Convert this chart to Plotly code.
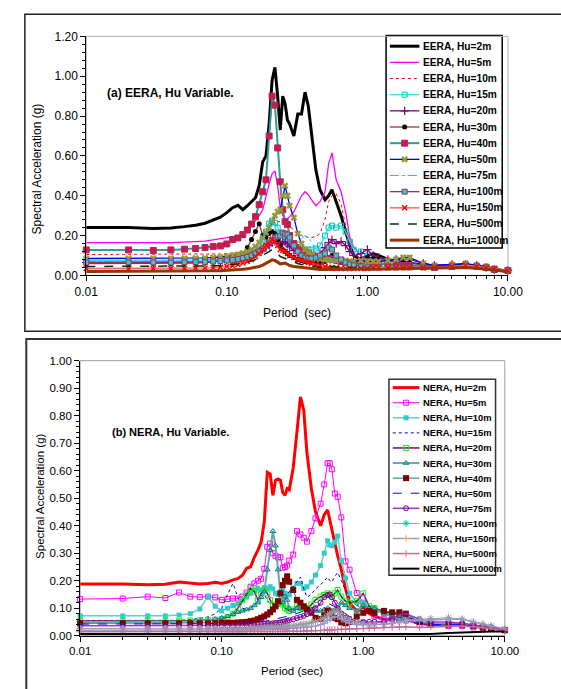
import plotly.graph_objects as go

# ---------------- data: panel (a) EERA ----------------
T_EERA = [0.01, 0.02, 0.03, 0.04, 0.05, 0.06, 0.07, 0.08, 0.09, 0.10,
          0.11, 0.12, 0.13, 0.14, 0.15, 0.16, 0.17, 0.18, 0.19, 0.20,
          0.21, 0.22, 0.23, 0.24, 0.25, 0.26, 0.27, 0.28, 0.30, 0.32,
          0.34, 0.36, 0.38, 0.40, 0.43, 0.46, 0.50, 0.53, 0.56, 0.60,
          0.65, 0.70, 0.75, 0.80, 0.90, 1.00, 1.10, 1.20, 1.40, 1.60,
          1.80, 2.00, 2.50, 3.00, 4.00, 5.00, 6.00, 7.00, 8.00, 10.0]

eera_2m = [0.240, 0.240, 0.235, 0.238, 0.245, 0.252, 0.262, 0.278, 0.292, 0.315,
           0.340, 0.352, 0.330, 0.350, 0.372, 0.390, 0.450, 0.570, 0.600, 0.760,
           0.980, 1.045, 0.900, 0.730, 0.900, 0.860, 0.780, 0.760, 0.700, 0.810,
           0.810, 0.920, 0.850, 0.720, 0.530, 0.430, 0.380, 0.400, 0.430, 0.370,
           0.300, 0.220, 0.150, 0.100, 0.080, 0.100, 0.110, 0.100, 0.080, 0.070,
           0.065, 0.060, 0.050, 0.045, 0.050, 0.050, 0.045, 0.040, 0.030, 0.020]
eera_5m = [0.165, 0.165, 0.163, 0.165, 0.167, 0.170, 0.172, 0.178, 0.183, 0.188,
           0.192, 0.198, 0.210, 0.230, 0.250, 0.275, 0.300, 0.330, 0.400, 0.460,
           0.510, 0.525, 0.450, 0.340, 0.300, 0.285, 0.285, 0.295, 0.320, 0.360,
           0.400, 0.420, 0.405, 0.380, 0.350, 0.370, 0.420, 0.560, 0.615, 0.480,
           0.420, 0.320, 0.190, 0.140, 0.100, 0.080, 0.070, 0.060, 0.055, 0.050,
           0.050, 0.050, 0.045, 0.040, 0.045, 0.050, 0.045, 0.040, 0.030, 0.020]
eera_10m = [0.105, 0.105, 0.105, 0.105, 0.105, 0.105, 0.106, 0.107, 0.108, 0.110,
            0.112, 0.115, 0.118, 0.122, 0.130, 0.145, 0.160, 0.180, 0.200, 0.225,
            0.250, 0.265, 0.270, 0.270, 0.275, 0.280, 0.265, 0.250, 0.225, 0.210,
            0.200, 0.195, 0.190, 0.190, 0.195, 0.210, 0.280, 0.370, 0.400, 0.410,
            0.360, 0.250, 0.150, 0.110, 0.080, 0.070, 0.060, 0.055, 0.050, 0.050,
            0.050, 0.050, 0.045, 0.040, 0.045, 0.050, 0.045, 0.040, 0.030, 0.020]
eera_15m = [0.075, 0.075, 0.075, 0.075, 0.076, 0.077, 0.078, 0.080, 0.082, 0.085,
            0.088, 0.092, 0.097, 0.105, 0.115, 0.130, 0.150, 0.180, 0.220, 0.260,
            0.275, 0.265, 0.240, 0.210, 0.185, 0.170, 0.160, 0.150, 0.140, 0.135,
            0.130, 0.130, 0.130, 0.130, 0.135, 0.150, 0.200, 0.240, 0.250, 0.240,
            0.250, 0.220, 0.170, 0.130, 0.120, 0.100, 0.080, 0.070, 0.060, 0.055,
            0.055, 0.055, 0.050, 0.045, 0.050, 0.055, 0.050, 0.040, 0.030, 0.025]
eera_20m = [0.065, 0.065, 0.064, 0.065, 0.066, 0.067, 0.068, 0.070, 0.073, 0.076,
            0.080, 0.085, 0.090, 0.095, 0.100, 0.110, 0.120, 0.130, 0.140, 0.150,
            0.165, 0.170, 0.165, 0.160, 0.165, 0.170, 0.160, 0.145, 0.125, 0.110,
            0.100, 0.095, 0.090, 0.090, 0.095, 0.110, 0.140, 0.165, 0.180, 0.160,
            0.170, 0.150, 0.120, 0.100, 0.110, 0.130, 0.100, 0.090, 0.080, 0.080,
            0.080, 0.080, 0.060, 0.050, 0.055, 0.055, 0.050, 0.040, 0.030, 0.025]
eera_30m = [0.060, 0.060, 0.060, 0.060, 0.061, 0.062, 0.064, 0.067, 0.070, 0.075,
            0.085, 0.095, 0.110, 0.140, 0.180, 0.220, 0.260, 0.200, 0.190, 0.210,
            0.220, 0.210, 0.180, 0.150, 0.130, 0.120, 0.110, 0.100, 0.090, 0.080,
            0.075, 0.070, 0.068, 0.065, 0.060, 0.060, 0.070, 0.090, 0.100, 0.085,
            0.075, 0.070, 0.070, 0.070, 0.080, 0.090, 0.085, 0.080, 0.075, 0.070,
            0.070, 0.065, 0.050, 0.045, 0.050, 0.050, 0.045, 0.040, 0.030, 0.025]
eera_40m = [0.128, 0.128, 0.125, 0.128, 0.132, 0.135, 0.140, 0.145, 0.148, 0.158,
            0.180, 0.188, 0.205, 0.228, 0.258, 0.295, 0.355, 0.420, 0.480, 0.700,
            0.900, 0.855, 0.640, 0.470, 0.330, 0.270, 0.255, 0.200, 0.160, 0.140,
            0.125, 0.115, 0.110, 0.100, 0.095, 0.090, 0.085, 0.085, 0.080, 0.075,
            0.070, 0.065, 0.060, 0.060, 0.065, 0.070, 0.065, 0.060, 0.055, 0.050,
            0.050, 0.050, 0.045, 0.040, 0.045, 0.050, 0.045, 0.040, 0.030, 0.025]
eera_50m = [0.085, 0.085, 0.085, 0.085, 0.086, 0.087, 0.088, 0.090, 0.092, 0.095,
            0.100, 0.105, 0.112, 0.120, 0.130, 0.145, 0.165, 0.190, 0.215, 0.240,
            0.270, 0.300, 0.320, 0.330, 0.400, 0.450, 0.400, 0.350, 0.290, 0.210,
            0.160, 0.130, 0.115, 0.105, 0.095, 0.085, 0.080, 0.075, 0.075, 0.075,
            0.080, 0.075, 0.070, 0.070, 0.075, 0.070, 0.070, 0.070, 0.075, 0.080,
            0.090, 0.090, 0.060, 0.050, 0.055, 0.060, 0.050, 0.045, 0.035, 0.025]
eera_75m = [0.070, 0.070, 0.070, 0.070, 0.070, 0.071, 0.072, 0.073, 0.075, 0.078,
            0.082, 0.086, 0.092, 0.100, 0.110, 0.125, 0.145, 0.170, 0.220, 0.270,
            0.280, 0.240, 0.210, 0.200, 0.195, 0.190, 0.175, 0.160, 0.150, 0.165,
            0.185, 0.200, 0.190, 0.165, 0.135, 0.120, 0.100, 0.090, 0.080, 0.075,
            0.070, 0.065, 0.060, 0.055, 0.055, 0.055, 0.050, 0.050, 0.045, 0.045,
            0.045, 0.045, 0.040, 0.040, 0.045, 0.045, 0.040, 0.035, 0.030, 0.020]
eera_100m = [0.065, 0.065, 0.065, 0.065, 0.066, 0.067, 0.068, 0.070, 0.072, 0.075,
             0.078, 0.082, 0.087, 0.093, 0.100, 0.110, 0.120, 0.135, 0.150, 0.165,
             0.180, 0.190, 0.195, 0.200, 0.215, 0.210, 0.205, 0.190, 0.150, 0.120,
             0.100, 0.090, 0.085, 0.085, 0.090, 0.100, 0.110, 0.140, 0.130, 0.100,
             0.080, 0.065, 0.055, 0.050, 0.045, 0.040, 0.040, 0.040, 0.040, 0.040,
             0.040, 0.040, 0.040, 0.040, 0.045, 0.050, 0.045, 0.040, 0.030, 0.025]
eera_150m = [0.035, 0.035, 0.035, 0.035, 0.035, 0.036, 0.037, 0.039, 0.041, 0.045,
             0.050, 0.055, 0.062, 0.070, 0.080, 0.095, 0.110, 0.130, 0.150, 0.160,
             0.180, 0.170, 0.150, 0.130, 0.125, 0.120, 0.110, 0.100, 0.090, 0.080,
             0.075, 0.070, 0.065, 0.060, 0.055, 0.050, 0.045, 0.040, 0.040, 0.040,
             0.035, 0.035, 0.035, 0.035, 0.035, 0.035, 0.040, 0.040, 0.040, 0.040,
             0.040, 0.040, 0.040, 0.040, 0.045, 0.050, 0.045, 0.040, 0.035, 0.025]
eera_500m = [0.045, 0.045, 0.045, 0.045, 0.045, 0.046, 0.047, 0.048, 0.050, 0.052,
             0.055, 0.058, 0.062, 0.066, 0.072, 0.080, 0.090, 0.100, 0.110, 0.120,
             0.130, 0.125, 0.110, 0.095, 0.090, 0.085, 0.080, 0.075, 0.065, 0.060,
             0.055, 0.050, 0.048, 0.045, 0.042, 0.040, 0.040, 0.042, 0.045, 0.042,
             0.040, 0.038, 0.036, 0.035, 0.035, 0.035, 0.035, 0.035, 0.035, 0.035,
             0.035, 0.035, 0.035, 0.035, 0.040, 0.040, 0.040, 0.035, 0.030, 0.020]
eera_1000m = [0.020, 0.020, 0.020, 0.020, 0.020, 0.021, 0.022, 0.023, 0.024, 0.025,
              0.027, 0.029, 0.031, 0.033, 0.036, 0.040, 0.045, 0.052, 0.060, 0.068,
              0.078, 0.075, 0.065, 0.058, 0.060, 0.062, 0.056, 0.050, 0.045, 0.042,
              0.040, 0.038, 0.036, 0.034, 0.032, 0.030, 0.030, 0.030, 0.030, 0.030,
              0.030, 0.030, 0.030, 0.030, 0.030, 0.030, 0.030, 0.030, 0.032, 0.034,
              0.035, 0.035, 0.035, 0.038, 0.040, 0.040, 0.036, 0.032, 0.028, 0.020]

# ---------------- data: panel (b) NERA ----------------
T_NERA = [0.01, 0.02, 0.03, 0.04, 0.05, 0.06, 0.07, 0.08, 0.09, 0.10,
          0.11, 0.12, 0.13, 0.14, 0.15, 0.16, 0.17, 0.18, 0.19, 0.20,
          0.21, 0.22, 0.23, 0.24, 0.25, 0.26, 0.27, 0.28, 0.29, 0.30,
          0.32, 0.34, 0.36, 0.38, 0.40, 0.43, 0.46, 0.50, 0.53, 0.56,
          0.58, 0.60, 0.63, 0.66, 0.70, 0.75, 0.80, 0.90, 1.00, 1.10,
          1.20, 1.40, 1.60, 1.80, 2.00, 2.50, 3.00, 4.00, 5.00, 6.00,
          7.00, 8.00, 10.0]

nera_2m = [0.188, 0.188, 0.185, 0.187, 0.195, 0.190, 0.188, 0.190, 0.194, 0.190,
           0.195, 0.203, 0.207, 0.220, 0.245, 0.250, 0.285, 0.310, 0.340, 0.415,
           0.594, 0.588, 0.510, 0.565, 0.570, 0.565, 0.520, 0.510, 0.535, 0.530,
           0.610, 0.740, 0.868, 0.820, 0.665, 0.535, 0.450, 0.400, 0.440, 0.457,
           0.420, 0.390, 0.340, 0.290, 0.240, 0.170, 0.120, 0.090, 0.105, 0.080,
           0.070, 0.060, 0.060, 0.070, 0.060, 0.045, 0.040, 0.040, 0.040, 0.035,
           0.030, 0.030, 0.020]
nera_5m = [0.133, 0.135, 0.142, 0.137, 0.157, 0.142, 0.140, 0.142, 0.139, 0.130,
           0.133, 0.135, 0.135, 0.142, 0.157, 0.178, 0.190, 0.200, 0.207, 0.243,
           0.323, 0.335, 0.300, 0.290, 0.285, 0.285, 0.247, 0.250, 0.255, 0.273,
           0.295, 0.380, 0.368, 0.356, 0.342, 0.380, 0.427, 0.480, 0.550, 0.627,
           0.627, 0.605, 0.517, 0.505, 0.430, 0.270, 0.240, 0.155, 0.120, 0.090,
           0.070, 0.060, 0.060, 0.060, 0.055, 0.040, 0.040, 0.035, 0.035, 0.030,
           0.028, 0.025, 0.020]
nera_10m = [0.072, 0.072, 0.072, 0.072, 0.075, 0.080, 0.097, 0.142, 0.107, 0.090,
            0.100, 0.110, 0.116, 0.130, 0.140, 0.154, 0.166, 0.172, 0.165, 0.175,
            0.170, 0.178, 0.170, 0.154, 0.150, 0.160, 0.166, 0.154, 0.150, 0.148,
            0.172, 0.190, 0.190, 0.172, 0.178, 0.195, 0.220, 0.255, 0.300, 0.345,
            0.330, 0.327, 0.340, 0.362, 0.273, 0.210, 0.154, 0.120, 0.120, 0.100,
            0.100, 0.080, 0.080, 0.075, 0.070, 0.050, 0.040, 0.040, 0.040, 0.035,
            0.030, 0.030, 0.020]
nera_15m = [0.055, 0.055, 0.055, 0.055, 0.056, 0.058, 0.062, 0.068, 0.080, 0.100,
            0.150, 0.190, 0.140, 0.100, 0.095, 0.100, 0.110, 0.125, 0.140, 0.150,
            0.130, 0.115, 0.110, 0.105, 0.105, 0.110, 0.120, 0.140, 0.150, 0.160,
            0.180, 0.195, 0.213, 0.170, 0.140, 0.150, 0.170, 0.185, 0.200, 0.213,
            0.200, 0.195, 0.215, 0.230, 0.200, 0.165, 0.140, 0.110, 0.100, 0.080,
            0.070, 0.060, 0.060, 0.065, 0.060, 0.045, 0.040, 0.040, 0.040, 0.035,
            0.030, 0.025, 0.020]
nera_20m = [0.053, 0.053, 0.053, 0.053, 0.054, 0.055, 0.056, 0.057, 0.058, 0.060,
            0.068, 0.080, 0.100, 0.128, 0.150, 0.172, 0.160, 0.130, 0.154, 0.166,
            0.154, 0.130, 0.113, 0.107, 0.125, 0.120, 0.113, 0.100, 0.095, 0.090,
            0.095, 0.107, 0.100, 0.100, 0.100, 0.113, 0.130, 0.142, 0.148, 0.154,
            0.148, 0.142, 0.154, 0.166, 0.142, 0.125, 0.120, 0.125, 0.154, 0.107,
            0.100, 0.090, 0.080, 0.080, 0.070, 0.050, 0.040, 0.040, 0.040, 0.035,
            0.030, 0.030, 0.020]
nera_30m = [0.050, 0.050, 0.050, 0.050, 0.050, 0.052, 0.054, 0.056, 0.060, 0.065,
            0.070, 0.078, 0.085, 0.090, 0.095, 0.100, 0.110, 0.120, 0.140, 0.160,
            0.240, 0.310, 0.380, 0.327, 0.240, 0.154, 0.120, 0.142, 0.130, 0.100,
            0.090, 0.100, 0.100, 0.100, 0.100, 0.095, 0.090, 0.090, 0.095, 0.100,
            0.095, 0.090, 0.095, 0.100, 0.120, 0.110, 0.100, 0.090, 0.110, 0.100,
            0.100, 0.080, 0.070, 0.060, 0.060, 0.050, 0.045, 0.040, 0.040, 0.035,
            0.030, 0.030, 0.020]
nera_40m = [0.045, 0.045, 0.045, 0.045, 0.045, 0.045, 0.045, 0.045, 0.045, 0.046,
            0.046, 0.047, 0.048, 0.049, 0.050, 0.053, 0.055, 0.060, 0.065, 0.070,
            0.077, 0.085, 0.095, 0.107, 0.125, 0.154, 0.184, 0.200, 0.216, 0.196,
            0.166, 0.130, 0.120, 0.107, 0.095, 0.083, 0.065, 0.060, 0.074, 0.090,
            0.085, 0.077, 0.065, 0.060, 0.048, 0.045, 0.050, 0.070, 0.083, 0.090,
            0.083, 0.090, 0.085, 0.085, 0.080, 0.050, 0.040, 0.040, 0.040, 0.035,
            0.030, 0.025, 0.020]
nera_50m = [0.042, 0.042, 0.042, 0.042, 0.042, 0.042, 0.042, 0.042, 0.043, 0.043,
            0.044, 0.044, 0.045, 0.045, 0.046, 0.047, 0.048, 0.049, 0.050, 0.052,
            0.054, 0.056, 0.058, 0.060, 0.062, 0.064, 0.066, 0.068, 0.070, 0.072,
            0.076, 0.080, 0.085, 0.090, 0.095, 0.100, 0.105, 0.110, 0.115, 0.120,
            0.115, 0.110, 0.105, 0.100, 0.090, 0.080, 0.070, 0.060, 0.055, 0.050,
            0.050, 0.050, 0.050, 0.055, 0.050, 0.045, 0.040, 0.040, 0.040, 0.035,
            0.030, 0.025, 0.020]
nera_75m = [0.036, 0.036, 0.036, 0.036, 0.036, 0.036, 0.036, 0.036, 0.036, 0.036,
            0.036, 0.036, 0.037, 0.037, 0.038, 0.038, 0.039, 0.040, 0.041, 0.042,
            0.043, 0.044, 0.045, 0.046, 0.047, 0.048, 0.050, 0.052, 0.054, 0.056,
            0.060, 0.064, 0.068, 0.072, 0.078, 0.088, 0.100, 0.120, 0.140, 0.148,
            0.150, 0.140, 0.120, 0.100, 0.080, 0.065, 0.060, 0.050, 0.050, 0.050,
            0.050, 0.050, 0.060, 0.075, 0.080, 0.060, 0.050, 0.050, 0.045, 0.040,
            0.035, 0.030, 0.020]
nera_100m = [0.026, 0.026, 0.026, 0.026, 0.026, 0.026, 0.026, 0.026, 0.026, 0.026,
             0.026, 0.026, 0.027, 0.027, 0.027, 0.028, 0.028, 0.029, 0.029, 0.030,
             0.030, 0.031, 0.031, 0.032, 0.032, 0.033, 0.033, 0.034, 0.035, 0.035,
             0.037, 0.038, 0.040, 0.042, 0.044, 0.048, 0.052, 0.058, 0.065, 0.075,
             0.080, 0.085, 0.090, 0.090, 0.080, 0.065, 0.055, 0.050, 0.045, 0.040,
             0.040, 0.040, 0.045, 0.050, 0.055, 0.060, 0.062, 0.065, 0.060, 0.050,
             0.042, 0.035, 0.025]
nera_150m = [0.020, 0.020, 0.020, 0.020, 0.020, 0.020, 0.020, 0.020, 0.020, 0.020,
             0.020, 0.020, 0.020, 0.021, 0.021, 0.021, 0.022, 0.022, 0.022, 0.023,
             0.023, 0.023, 0.024, 0.024, 0.024, 0.025, 0.025, 0.025, 0.026, 0.026,
             0.027, 0.028, 0.029, 0.030, 0.031, 0.033, 0.035, 0.040, 0.045, 0.055,
             0.060, 0.065, 0.070, 0.068, 0.060, 0.050, 0.045, 0.040, 0.040, 0.040,
             0.040, 0.042, 0.045, 0.050, 0.055, 0.055, 0.058, 0.060, 0.060, 0.050,
             0.042, 0.035, 0.025]
nera_500m = [0.014, 0.014, 0.014, 0.014, 0.014, 0.014, 0.014, 0.014, 0.014, 0.014,
             0.014, 0.014, 0.014, 0.014, 0.015, 0.015, 0.015, 0.015, 0.015, 0.015,
             0.015, 0.015, 0.015, 0.015, 0.015, 0.015, 0.015, 0.016, 0.016, 0.016,
             0.016, 0.016, 0.016, 0.017, 0.017, 0.018, 0.018, 0.019, 0.020, 0.020,
             0.021, 0.021, 0.022, 0.022, 0.023, 0.023, 0.024, 0.025, 0.026, 0.027,
             0.028, 0.030, 0.030, 0.032, 0.032, 0.030, 0.032, 0.035, 0.035, 0.032,
             0.028, 0.025, 0.020]
nera_1000m = [0.006, 0.006, 0.006, 0.006, 0.006, 0.006, 0.006, 0.006, 0.006, 0.006,
              0.006, 0.006, 0.006, 0.006, 0.006, 0.006, 0.006, 0.006, 0.006, 0.006,
              0.006, 0.006, 0.006, 0.006, 0.006, 0.006, 0.006, 0.006, 0.006, 0.006,
              0.006, 0.006, 0.006, 0.006, 0.006, 0.006, 0.006, 0.006, 0.006, 0.006,
              0.006, 0.006, 0.006, 0.006, 0.006, 0.006, 0.006, 0.006, 0.006, 0.006,
              0.006, 0.006, 0.006, 0.006, 0.006, 0.006, 0.006, 0.010, 0.012, 0.014,
              0.015, 0.015, 0.015]

X_TICKVALS = [0.01, 0.1, 1, 10]
X_TICKTEXT = ["0.01", "0.10", "1.00", "10.00"]

# ---------------- styles ----------------
def ln(color, width=1.0, dash="solid"):
    return dict(color=color, width=width, dash=dash)

eera_series = [
    ("EERA, Hu=2m", eera_2m, ln("#000000", 3), None),
    ("EERA, Hu=5m", eera_5m, ln("#FF00FF", 1.3), None),
    ("EERA, Hu=10m", eera_10m, ln("#FF0000", 1, "dot"), None),
    ("EERA, Hu=15m", eera_15m, ln("#33E6E6", 1.3),
     dict(symbol="square-open", size=5, color="#00C0C0")),
    ("EERA, Hu=20m", eera_20m, ln("#800080", 1.3),
     dict(symbol="cross-thin", size=6, line=dict(width=1.2, color="#800080"))),
    ("EERA, Hu=30m", eera_30m, ln("#993333", 1.3),
     dict(symbol="circle", size=5, color="#000000")),
    ("EERA, Hu=40m", eera_40m, ln("#339999", 2),
     dict(symbol="square", size=6, color="#DD1144", line=dict(width=1, color="#993366"))),
    ("EERA, Hu=50m", eera_50m, ln("#0000FF", 1.3),
     dict(symbol="x", size=6, color="#999933")),
    ("EERA, Hu=75m", eera_75m, ln("#00CCFF", 1, "dashdot"), None),
    ("EERA, Hu=100m", eera_100m, ln("#993366", 1.3),
     dict(symbol="square", size=5, color="#33CCCC", line=dict(width=1, color="#993366"))),
    ("EERA, Hu=150m", eera_150m, ln("#FF6666", 1.5),
     dict(symbol="x-thin", size=5, line=dict(width=1.5, color="#FF0000"))),
    ("EERA, Hu=500m", eera_500m, ln("#003300", 1.5, "dash"), None),
    ("EERA, Hu=1000m", eera_1000m, ln("#993300", 3), None),
]

nera_series = [
    ("NERA, Hu=2m", nera_2m, ln("#FF0000", 3), None),
    ("NERA, Hu=5m", nera_5m, ln("#FF00FF", 1),
     dict(symbol="square-open", size=5, color="#FF00FF")),
    ("NERA, Hu=10m", nera_10m, ln("#66CCCC", 1.5),
     dict(symbol="square", size=5, color="#33CCCC")),
    ("NERA, Hu=15m", nera_15m, ln("#0000CC", 1, "dot"), None),
    ("NERA, Hu=20m", nera_20m, ln("#800080", 1.5),
     dict(symbol="square-open", size=5, color="#00FF00")),
    ("NERA, Hu=30m", nera_30m, ln("#66AAAA", 2),
     dict(symbol="triangle-up-open", size=5, color="#008080")),
    ("NERA, Hu=40m", nera_40m, ln("#008080", 1),
     dict(symbol="square", size=6, color="#800000")),
    ("NERA, Hu=50m", nera_50m, ln("#0000FF", 1, "dash"), None),
    ("NERA, Hu=75m", nera_75m, ln("#9933CC", 1.5),
     dict(symbol="circle-open", size=5, color="#800080")),
    ("NERA, Hu=100m", nera_100m, ln("#999999", 1),
     dict(symbol="asterisk-open", size=6, line=dict(width=1, color="#AAAAAA"))),
    ("NERA, Hu=150m", nera_150m, ln("#9999CC", 1.5),
     dict(symbol="cross-thin-open", size=5, line=dict(width=1, color="#6666AA"))),
    ("NERA, Hu=500m", nera_500m, ln("#CC6699", 1.5),
     dict(symbol="cross-thin-open", size=5, line=dict(width=1, color="#993366"))),
    ("NERA, Hu=1000m", nera_1000m, ln("#000000", 2), None),
]

W, H = 561, 689
FONT = "Liberation Sans, Arial, sans-serif"

fig = go.Figure()

for name, vals, line, marker in eera_series:
    kw = dict(x=T_EERA, y=vals, name=name, line=line, xaxis="x", yaxis="y",
              showlegend=False, cliponaxis=False)
    kw.update(mode="lines+markers", marker=marker) if marker else kw.update(mode="lines")
    fig.add_trace(go.Scatter(**kw))

for name, vals, line, marker in nera_series:
    kw = dict(x=T_NERA, y=vals, name=name, line=line, xaxis="x2", yaxis="y2",
              showlegend=False, cliponaxis=False)
    kw.update(mode="lines+markers", marker=marker) if marker else kw.update(mode="lines")
    fig.add_trace(go.Scatter(**kw))

shapes = []
annotations = []


# ---- compact legends (key samples drawn on a pixel-space overlay axis) ----
def build_legend(series, box, first_row, pitch, sx0, sx1, tx, fs, border):
    bx0, bx1, by0, by1 = box
    shapes.append(dict(type="rect", xref="paper", yref="paper",
                       x0=bx0 / W, x1=bx1 / W, y0=1 - by1 / H, y1=1 - by0 / H,
                       fillcolor="white", line=dict(color=border, width=1.5),
                       layer="below"))
    for i, (name, _vals, line, marker) in enumerate(series):
        yc = first_row + i * pitch
        fig.add_trace(go.Scatter(x=[sx0, sx1], y=[yc, yc], mode="lines", line=line,
                                 xaxis="x3", yaxis="y3", showlegend=False,
                                 hoverinfo="skip", cliponaxis=False))
        if marker:
            fig.add_trace(go.Scatter(x=[(sx0 + sx1) / 2], y=[yc], mode="markers",
                                     marker=marker, xaxis="x3", yaxis="y3",
                                     showlegend=False, hoverinfo="skip",
                                     cliponaxis=False))
        annotations.append(dict(text="<b>%s</b>" % name, x=tx / W, y=1 - yc / H,
                                xref="paper", yref="paper", xanchor="left",
                                yanchor="middle", showarrow=False,
                                font=dict(family=FONT, size=fs, color="black")))


build_legend(eera_series, (393, 515, 29, 246), 40, 16.5, 397, 428, 430, 10.2, "#000000")
build_legend(nera_series, (396, 508, 380, 580), 388.5, 15.4, 400, 428, 429.5, 9.4, "#333333")


def xax(domain, fs):
    return dict(type="log", range=[-2, 1], domain=domain,
                tickmode="array", tickvals=X_TICKVALS, ticktext=X_TICKTEXT,
                ticks="outside", ticklen=5, tickcolor="black", tickwidth=1,
                showline=True, linecolor="black", linewidth=1,
                showgrid=False, zeroline=False,
                minor=dict(ticks="outside", ticklen=3, dtick="D1",
                           tickcolor="black", showgrid=False),
                tickfont=dict(family=FONT, size=fs, color="black"))


def yax(domain, rng, dt, mdt, fs):
    return dict(range=rng, domain=domain, dtick=dt, tick0=0, tickformat=".2f",
                ticks="outside", ticklen=5, tickcolor="black", tickwidth=1,
                showline=True, linecolor="black", linewidth=1,
                showgrid=False, zeroline=False,
                minor=dict(ticks="outside", ticklen=3, dtick=mdt, tick0=0,
                           tickcolor="black", showgrid=False),
                tickfont=dict(family=FONT, size=fs, color="black"))


fig.update_layout(
    width=W, height=H,
    margin=dict(l=0, r=0, t=0, b=0),
    paper_bgcolor="white", plot_bgcolor="rgba(0,0,0,0)",
    showlegend=False,
    xaxis=xax([78 / W, 521 / W], 12) | dict(anchor="y"),
    yaxis=yax([1 - 274 / H, 1 - 30 / H], [0, 1.2], 0.2, 0.04, 12) | dict(anchor="x"),
    xaxis2=xax([71.6 / W, 517.7 / W], 11.5) | dict(anchor="y2"),
    yaxis2=yax([1 - 641.7 / H, 1 - 361 / H], [0, 1.0], 0.1, 0.02, 11.5) | dict(anchor="x2"),
    # pixel-space overlay used only for the legend key samples
    xaxis3=dict(domain=[0, 1], range=[0, W], visible=False, anchor="y3", fixedrange=True),
    yaxis3=dict(domain=[0, 1], range=[H, 0], visible=False, anchor="x3", fixedrange=True),
)

shapes += [
    # outer panel frames
    dict(type="rect", xref="paper", yref="paper", x0=13.5 / W, x1=1.05,
         y0=1 - 331 / H, y1=1 - 7.5 / H, line=dict(color="#222222", width=1.5)),
    dict(type="rect", xref="paper", yref="paper", x0=15 / W, x1=1.05,
         y0=-0.05, y1=1 - 339 / H, line=dict(color="#333333", width=2)),
    # light plot-area borders
    dict(type="rect", xref="x domain", yref="y domain", x0=0, x1=1, y0=0, y1=1,
         line=dict(color="#B0B0B0", width=1), layer="below"),
    dict(type="rect", xref="x2 domain", yref="y2 domain", x0=0, x1=1, y0=0, y1=1,
         line=dict(color="#A0A0A0", width=1), layer="below"),
]

annotations += [
    dict(text="<b>(a) EERA, Hu Variable.</b>", x=98 / W, y=1 - 88 / H, xref="paper", yref="paper",
         xanchor="left", yanchor="middle", showarrow=False,
         font=dict(family=FONT, size=12, color="black")),
    dict(text="<b>(b) NERA, Hu Variable.</b>", x=102.5 / W, y=1 - 434 / H, xref="paper", yref="paper",
         xanchor="left", yanchor="middle", showarrow=False,
         font=dict(family=FONT, size=11, color="black")),
    dict(text="Spectral Acceleration (g)", x=26 / W, y=1 - 165 / H, xref="paper", yref="paper",
         xanchor="center", yanchor="middle", showarrow=False, textangle=-90,
         font=dict(family=FONT, size=12, color="black")),
    dict(text="Spectral Acceleration (g)", x=29.5 / W, y=1 - 500 / H, xref="paper", yref="paper",
         xanchor="center", yanchor="middle", showarrow=False, textangle=-90,
         font=dict(family=FONT, size=11.5, color="black")),
    dict(text="Period&nbsp;&nbsp;(sec)", x=299 / W, y=1 - 312 / H, xref="paper", yref="paper",
         xanchor="center", yanchor="middle", showarrow=False,
         font=dict(family=FONT, size=12, color="black")),
    dict(text="Period (sec)", x=294 / W, y=1 - 678 / H, xref="paper", yref="paper",
         xanchor="center", yanchor="middle", showarrow=False,
         font=dict(family=FONT, size=11.5, color="black")),
]

fig.update_layout(shapes=shapes, annotations=annotations)

fig.write_html("out.html")
